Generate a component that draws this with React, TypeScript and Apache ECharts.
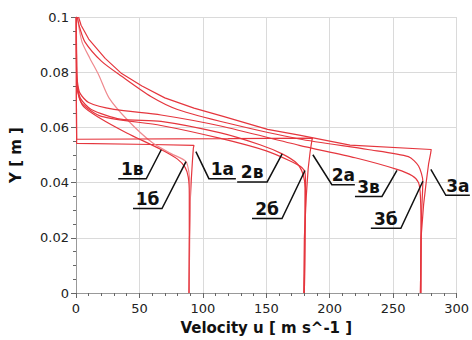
import React, { useEffect, useRef } from "react";
import * as echarts from "echarts";

// ---- Data (u in m/s, Y in m) ----
const curve1a: [number, number][] = [[89.3, 0], [89.5, 0.02], [90, 0.033], [91, 0.042], [91.8, 0.048], [92.5, 0.0525], [93, 0.0535], [60, 0.0538], [0.5, 0.0542], [0.3, 0.07], [0.3, 0.1]];
const curve1b: [number, number][] = [[1, 0.1], [4.7, 0.091], [11, 0.085], [18, 0.0789], [26, 0.0707], [41, 0.0625], [60, 0.0545], [75, 0.0505], [86.7, 0.0476], [89.2, 0.043], [90, 0.036], [89.5, 0.02], [89.3, 0]];
const curve1v: [number, number][] = [[0.3, 0.1], [0.5, 0.079], [1.5, 0.0725], [6, 0.0675], [18, 0.0636], [40, 0.058], [67, 0.052], [80, 0.0485], [86, 0.0455], [88.5, 0.042], [89.3, 0.036], [89.3, 0.02], [89, 0]];
const curve2a: [number, number][] = [[179.5, 0], [180, 0.02], [181.5, 0.035], [183, 0.045], [184.5, 0.051], [186, 0.0555], [186.5, 0.0561], [120, 0.0559], [0.5, 0.0557], [0.3, 0.07], [0.3, 0.1]];
const curve2b: [number, number][] = [[0.3, 0.1], [0.5, 0.078], [1.5, 0.073], [5, 0.0685], [20, 0.064], [67, 0.0607], [114, 0.056], [150, 0.0515], [168, 0.048], [178, 0.0455], [180.5, 0.0435], [181, 0.038], [180.5, 0.02], [180, 0]];
const curve2v: [number, number][] = [[0.3, 0.1], [0.5, 0.08], [1.2, 0.075], [3.5, 0.0705], [12, 0.0665], [35, 0.063], [67, 0.0622], [114, 0.058], [145, 0.0537], [162.5, 0.0504], [174, 0.047], [179, 0.043], [180.5, 0.038], [180.5, 0.02], [180, 0]];
const curve3a: [number, number][] = [[271.5, 0], [272, 0.02], [274, 0.032], [276, 0.04], [278, 0.047], [279.5, 0.0505], [280, 0.052], [216, 0.0536], [176, 0.0572], [151, 0.0593], [116, 0.064], [93, 0.067], [70, 0.0707], [52, 0.075], [36, 0.0795], [23, 0.085], [10, 0.092], [4, 0.097], [2, 0.1]];
const curve3b: [number, number][] = [[1, 0.1], [3, 0.096], [7, 0.091], [20, 0.084], [36, 0.0785], [59, 0.0712], [80, 0.0665], [120, 0.0615], [176, 0.0558], [230, 0.052], [262, 0.0494], [270, 0.046], [273.4, 0.0405], [272.5, 0.03], [272, 0.02], [271.5, 0]];
const curve3v: [number, number][] = [[0.3, 0.1], [0.5, 0.082], [1, 0.077], [3, 0.0725], [10, 0.069], [30, 0.0665], [67, 0.0645], [114, 0.0605], [176, 0.0535], [220, 0.049], [253, 0.0448], [265, 0.0425], [270, 0.04], [271.5, 0.035], [272, 0.02], [272, 0]];

const seriesNames = ["1а", "1б", "1в", "2а", "2б", "2в", "3а", "3б", "3в"];
const seriesData = [curve1a, curve1b, curve1v, curve2a, curve2b, curve2v, curve3a, curve3b, curve3v];

// Callout labels: text, anchor point on the curve (data units)
const labelTexts = ["1в", "1а", "1б", "2в", "2а", "2б", "3в", "3а", "3б"];
const labelAnchors: [number, number][] = [[67.2, 0.0519], [94.5, 0.0512], [86.7, 0.0476], [162.5, 0.0504], [186.7, 0.0501], [180.5, 0.0444], [253, 0.0444], [279.7, 0.0448], [273.4, 0.0405]];
// leader elbow offset (px) and underline length (negative = to the left)
const labelElbows: [number, number, number][] = [[-15, 29, -28], [13, 27, 27], [-24, 47, -29], [-15, 28, -30], [19, 30, 23], [-23, 48, -30], [-15, 26, -27], [15, 26, 24], [-22, 47, -30]];

const FONT = "DejaVu Sans";

export default function App() {
  const ref = useRef<HTMLDivElement>(null);
  useEffect(() => {
    if (!ref.current) return;
    const chart = echarts.init(ref.current, undefined, { renderer: "svg" });
    const series = seriesData.map((d, i) => ({
      name: seriesNames[i],
      type: "line",
      data: d,
      showSymbol: false,
      smooth: seriesNames[i].endsWith("а") ? false : 0.25,
      lineStyle: { width: 1.2, color: seriesNames[i] === "1б" ? "#ef8a8f" : "#e5363e" },
      z: 3,
    }));
    chart.setOption({
      animation: false,
      backgroundColor: "#ffffff",
      grid: { left: 74, right: 14, top: 17, bottom: 41 },
      xAxis: {
        type: "value",
        min: 0,
        max: 300,
        interval: 50,
        name: "Velocity u [ m s^-1 ]",
        nameLocation: "middle",
        nameGap: 27,
        nameTextStyle: { fontFamily: FONT, fontWeight: "bold", fontSize: 15, color: "#111" },
        axisLine: { show: true, lineStyle: { color: "#999" } },
        axisTick: { show: true, length: 5, lineStyle: { color: "#666" } },
        minorTick: { show: true, splitNumber: 5, length: 3, lineStyle: { color: "#666" } },
        splitLine: { show: true, lineStyle: { color: "#dadada", width: 1 } },
        axisLabel: { fontFamily: FONT, fontSize: 13, color: "#222", margin: 9 },
      },
      yAxis: {
        type: "value",
        min: 0,
        max: 0.1,
        interval: 0.02,
        name: "Y [ m ]",
        nameLocation: "middle",
        nameGap: 53,
        nameTextStyle: { fontFamily: FONT, fontWeight: "bold", fontSize: 15, color: "#111" },
        axisLine: { show: true, lineStyle: { color: "#999" } },
        axisTick: { show: true, length: 5, lineStyle: { color: "#666" } },
        minorTick: { show: true, splitNumber: 4, length: 3, lineStyle: { color: "#666" } },
        splitLine: { show: true, lineStyle: { color: "#dadada", width: 1 } },
        axisLabel: { fontFamily: FONT, fontSize: 13, color: "#222", margin: 7 },
      },
      series,
    });
    const graphics: any[] = [];
    labelTexts.forEach((t, i) => {
      const p = chart.convertToPixel({ xAxisIndex: 0, yAxisIndex: 0 }, labelAnchors[i]) as number[];
      const [dx, dy, len] = labelElbows[i];
      const ex = p[0] + dx;
      const ey = p[1] + dy;
      graphics.push({
        type: "polyline",
        shape: { points: [[p[0], p[1]], [ex, ey], [ex + len, ey]] },
        style: { stroke: "#111", lineWidth: 1.5, fill: null },
        z: 10,
      });
      graphics.push({
        type: "text",
        x: ex + len / 2,
        y: ey - 1,
        style: {
          text: t,
          fontFamily: FONT,
          fontWeight: "bold",
          fontSize: 17,
          fill: "#111",
          align: "center",
          verticalAlign: "bottom",
        },
        z: 10,
      });
    });
    chart.setOption({ graphic: graphics });
    return () => chart.dispose();
  }, []);
  return <div ref={ref} style={{ position: "fixed", left: 0, top: 0, width: 472, height: 340, background: "#fff" }} />;
}
